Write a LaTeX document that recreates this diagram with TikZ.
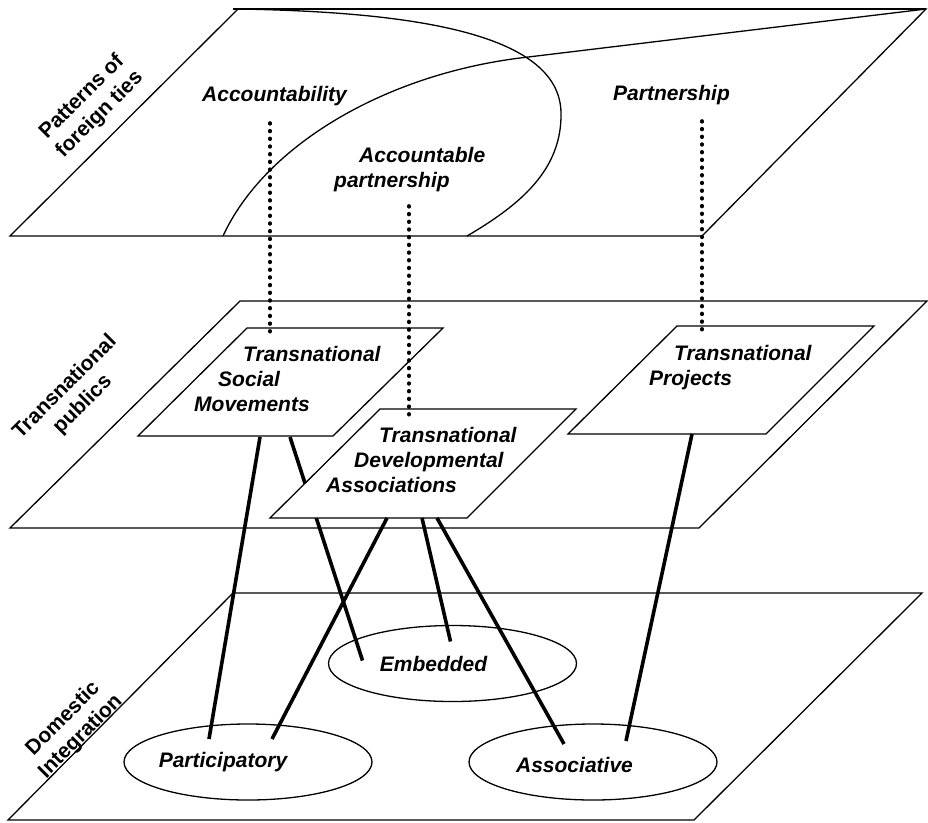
\documentclass[tikz,border=0pt]{standalone}
\usepackage{fontspec}
\setmainfont{Liberation Sans}
\usetikzlibrary{shapes.geometric}

\tikzset{
  plane/.style={draw, line width=1.3pt},
  panel/.style={draw, fill=white, line width=1.3pt},
  tie/.style={draw, line width=3.6pt},
  link/.style={draw, line width=3.6pt, line cap=round, dash pattern=on 0.8pt off 6.9pt},
  lbl/.style={font=\fontsize{21}{25}\selectfont\bfseries\itshape, align=left, inner sep=0pt, anchor=north west},
  tag/.style={font=\fontsize{21}{25}\selectfont\bfseries, align=center, rotate=45, inner sep=0pt},
  pool/.style={ellipse, draw, line width=1.3pt, minimum width=248pt, minimum height=76pt, inner sep=0pt},
  pooltext/.style={font=\fontsize{21}{25}\selectfont\bfseries\itshape, inner sep=0pt},
}

\begin{document}
\begin{tikzpicture}[x=1pt, y=-1pt]
  \useasboundingbox (0,0) rectangle (928,822);

  % top plane: patterns of foreign ties
  \draw[plane] (238,9) -- (926,9) -- (702,236) -- (10,236) -- cycle;
  \draw[line width=2.2pt] (233,9) -- (926,9);
  \draw[plane] (238,9) .. controls (420,12) and (560,35) .. (561,113)
    .. controls (562,170) and (520,205) .. (467,236);
  \draw[plane] (926,9) -- (520,58) .. controls (385,75) and (265,145) .. (223,236);

  % middle plane: transnational publics
  \draw[plane] (240,301) -- (927,301) -- (699,528) -- (10,528) -- cycle;

  % bottom plane: domestic integration
  \draw[plane] (233,593) -- (922,593) -- (694,820) -- (8,820) -- cycle;

  % forms of integration
  \node[pool, label={[pooltext, xshift=-19pt]center:Embedded}] (emb) at (452.5,663.5) {};
  \node[pool, label={[pooltext, xshift=-25pt]center:Participatory}] (part) at (248,762) {};
  \node[pool, label={[pooltext, xshift=-18.5pt, yshift=-3pt]center:Associative}] (asso) at (593,762) {};
  \path (part.center) ++(-39,-23) coordinate (part-a) ++(63,0) coordinate (part-b);
  \path (emb.center) ++(-90,-3) coordinate (emb-a) ++(88,-19) coordinate (emb-b);
  \path (asso.center) ++(-29,-18) coordinate (asso-a) ++(62,-3) coordinate (asso-b);

  % transnational social movements
  \draw[panel] (138,436) -- (333,436) -- (443,328) -- (247,328) -- cycle;
  \coordinate (tsm-a) at (260,437);
  \coordinate (tsm-b) at (290,437);
  \coordinate (tsm-top) at (270,337);
  \draw[tie] (tsm-a) -- (part-a);
  \draw[tie] (tsm-b) -- (emb-a);

  % transnational developmental associations
  \draw[panel] (270,518) -- (467,518) -- (576,409) -- (380,409) -- cycle;
  \coordinate (tda-a) at (387,518);
  \coordinate (tda-b) at (422,518);
  \coordinate (tda-c) at (437,518);
  \coordinate (tda-top) at (409,418);
  \draw[tie] (tda-a) -- (part-b);
  \draw[tie] (tda-b) -- (emb-b);
  \draw[tie] (tda-c) -- (asso-a);

  % transnational projects
  \draw[panel] (568,434) -- (766,434) -- (874,326) -- (677,326) -- cycle;
  \coordinate (tp-a) at (692,434);
  \coordinate (tp-top) at (702,333);
  \draw[tie] (tp-a) -- (asso-b);

  % patterns of ties
  \node[lbl] (acc) at (202,86) {Accountability};
  \node[lbl] (accp) at (334,147) {\hspace*{25pt}Accountable\\partnership};
  \node[lbl] (pship) at (613,85) {Partnership};
  \coordinate (acc-b) at (270,123);
  \coordinate (accp-b) at (409,206);
  \coordinate (pship-b) at (702,121);
  \draw[link] (acc-b) -- (tsm-top);
  \draw[link] (accp-b) -- (tda-top);
  \draw[link] (pship-b) -- (tp-top);

  \node[lbl] (tsm) at (194,346) {\hspace*{49pt}Transnational\\\hspace*{24pt}Social\\Movements};
  \node[lbl] (tda) at (326,427) {\hspace*{53pt}Transnational\\\hspace*{28pt}Developmental\\Associations};
  \node[lbl] (tp) at (649,345) {\hspace*{25pt}Transnational\\Projects};

  % plane names
  \node[tag] (ties) at (91,106) {Patterns of\\foreign ties};
  \node[tag] (pubs) at (74,396) {Transnational\\publics};
  \node[tag] (dom) at (72,728) {Domestic\\Integration};
\end{tikzpicture}
\end{document}
